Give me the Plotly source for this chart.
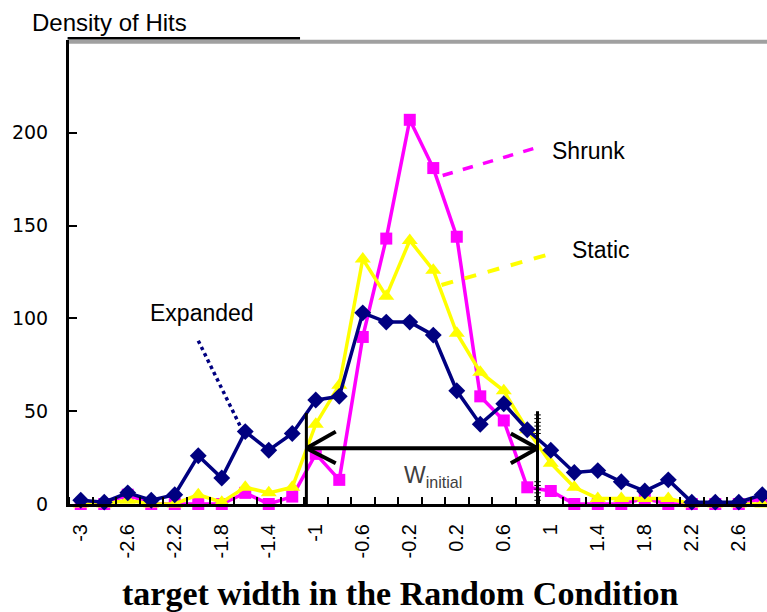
import plotly.graph_objs as go

# target width bins (categories of the Excel chart)
width_bins = [-3.0, -2.8, -2.6, -2.4, -2.2, -2.0, -1.8, -1.6, -1.4, -1.2,
              -1.0, -0.8, -0.6, -0.4, -0.2, 0.0, 0.2, 0.4, 0.6, 0.8,
              1.0, 1.2, 1.4, 1.6, 1.8, 2.0, 2.2, 2.4, 2.6, 2.8]

shrunk = [0, 0, 5, 0, 0, 0, 0, 6, 0, 4,
          27, 13, 90, 143, 207, 181, 144, 58, 45, 9,
          7, 0, 0, 0, 3, 0, 0, 0, 0, 3]
static = [0, 0, 2, 0, 0, 5, 1, 9, 6, 9,
          43, 64, 132, 112, 142, 126, 92, 71, 61, 40,
          22, 9, 3, 3, 3, 3, 0, 0, 0, 0]
expanded = [2, 1, 6, 2, 5, 26, 14, 39, 29, 38,
            56, 58, 103, 98, 98, 91, 61, 43, 54, 40,
            29, 17, 18, 12, 7, 13, 1, 1, 1, 5]

x_tick_vals = [-3.0, -2.6, -2.2, -1.8, -1.4, -1.0, -0.6, -0.2, 0.2, 0.6, 1.0, 1.4, 1.8, 2.2, 2.6]
x_tick_text = ["-3", "-2.6", "-2.2", "-1.8", "-1.4", "-1", "-0.6", "-0.2", "0.2", "0.6", "1", "1.4", "1.8", "2.2", "2.6"]
y_tick_vals = [0, 50, 100, 150, 200, 250]
y_tick_text = ["0", "50", "100", "150", "200", ""]

SANS = "Liberation Sans, Arial, sans-serif"

fig = go.Figure()
fig.add_trace(go.Scatter(x=width_bins, y=shrunk, name="Shrunk", mode="lines+markers",
                         line=dict(color="#ff00ff", width=3.5),
                         marker=dict(symbol="square", size=12, color="#ff00ff"),
                         cliponaxis=False))
fig.add_trace(go.Scatter(x=width_bins, y=static, name="Static", mode="lines+markers",
                         line=dict(color="#ffff00", width=3.5),
                         marker=dict(symbol="triangle-up", size=14, color="#ffff00"),
                         cliponaxis=False))
fig.add_trace(go.Scatter(x=width_bins, y=expanded, name="Expanded", mode="lines+markers",
                         line=dict(color="#000080", width=3.5),
                         marker=dict(symbol="diamond", size=13, color="#000080"),
                         cliponaxis=False))

# tick marks sit between the categories, like the excel category axis
bounds = [round(-3.1 + 0.2 * i, 1) for i in range(31)]

fig.update_layout(
    width=767, height=612,
    margin=dict(l=69, r=0, t=40, b=108),
    paper_bgcolor="white", plot_bgcolor="white",
    showlegend=False,
    font=dict(family=SANS, color="black"),
    xaxis=dict(range=[-3.1, 2.84], tickvals=x_tick_vals, ticktext=x_tick_text,
               tickangle=-90, ticks="", showgrid=False, zeroline=False,
               automargin=False, ticklabelstandoff=9,
               showline=True, linecolor="black", linewidth=3,
               tickfont=dict(family=SANS, size=20, color="black"),
               minor=dict(tickvals=bounds, ticks="inside", ticklen=7,
                          tickwidth=2, tickcolor="black", showgrid=False)),
    yaxis=dict(range=[0, 250], tickvals=y_tick_vals, ticktext=y_tick_text,
               ticks="inside", ticklen=8, tickwidth=2, tickcolor="black",
               showgrid=False, zeroline=False, ticklabelstandoff=14,
               automargin=False,
               showline=True, linecolor="black", linewidth=3,
               tickfont=dict(family="DejaVu Sans, sans-serif", size=19, color="black")),
)

# top frame: grey border with black stub under the y title
fig.add_shape(type="line", xref="paper", yref="paper", x0=0, x1=1, y0=0.996, y1=0.996,
              line=dict(color="#a0a0a0", width=4))
fig.add_shape(type="line", xref="paper", yref="paper", x0=-0.002, x1=0.331, y0=1.004, y1=1.004,
              line=dict(color="black", width=2.5))

# leader lines to the series labels
fig.add_shape(type="line", x0=0.08, y0=177, x1=0.88, y1=192,
              line=dict(color="#ff00ff", width=3.5, dash="dash"))
fig.add_shape(type="line", x0=0.07, y0=118, x1=1.01, y1=135,
              line=dict(color="#ffff00", width=4, dash="dash"))
fig.add_shape(type="line", x0=-2.0, y0=88, x1=-1.62, y1=39,
              line=dict(color="#000080", width=3.5, dash="dot"))

# W initial marker: two bars and a double headed arrow
fig.add_shape(type="line", x0=-1.08, y0=49, x1=-1.08, y1=-0.5, line=dict(color="black", width=3))
fig.add_shape(type="line", x0=0.887, y0=50, x1=0.887, y1=-0.5, line=dict(color="black", width=3))
for yv in [48, 46, 44, 42, 40, 38, 12, 10, 8, 6, 4, 2]:
    fig.add_shape(type="line", x0=0.86, y0=yv, x1=0.915, y1=yv, line=dict(color="black", width=1))
fig.add_shape(type="line", x0=-1.08, y0=30, x1=0.887, y1=30, line=dict(color="black", width=4))
fig.add_shape(type="line", x0=-1.08, y0=30, x1=-0.83, y1=39, line=dict(color="black", width=4))
fig.add_shape(type="line", x0=-1.08, y0=30, x1=-0.83, y1=22, line=dict(color="black", width=4))
fig.add_shape(type="line", x0=0.887, y0=30, x1=0.66, y1=38, line=dict(color="black", width=4))
fig.add_shape(type="line", x0=0.887, y0=30, x1=0.66, y1=22, line=dict(color="black", width=4))

fig.add_annotation(x=0.0, y=15, text="W<sub>initial</sub>", showarrow=False,
                   font=dict(family=SANS, size=23, color="#404040"))
fig.add_annotation(x=0.99, y=190, text="Shrunk", showarrow=False, xanchor="left",
                   font=dict(family=SANS, size=23))
fig.add_annotation(x=1.16, y=137, text="Static", showarrow=False, xanchor="left",
                   font=dict(family=SANS, size=23))
fig.add_annotation(x=-2.43, y=103, text="Expanded", showarrow=False, xanchor="left",
                   font=dict(family=SANS, size=23))
fig.add_annotation(xref="paper", yref="paper", x=-0.056, y=1.037, text="Density of Hits",
                   showarrow=False, xanchor="left", yanchor="middle",
                   font=dict(family=SANS, size=24))
fig.add_annotation(xref="paper", yref="paper", x=0.474, y=-0.193,
                   text="<b>target width in the Random Condition</b>", showarrow=False,
                   yanchor="middle", font=dict(family="Liberation Serif, Times New Roman, serif", size=34))

# drop the browser's default body margin so the figure sits at the page corner
fig.write_html("out.html", config={"displayModeBar": False},
               post_script="document.body.style.margin='0';")
